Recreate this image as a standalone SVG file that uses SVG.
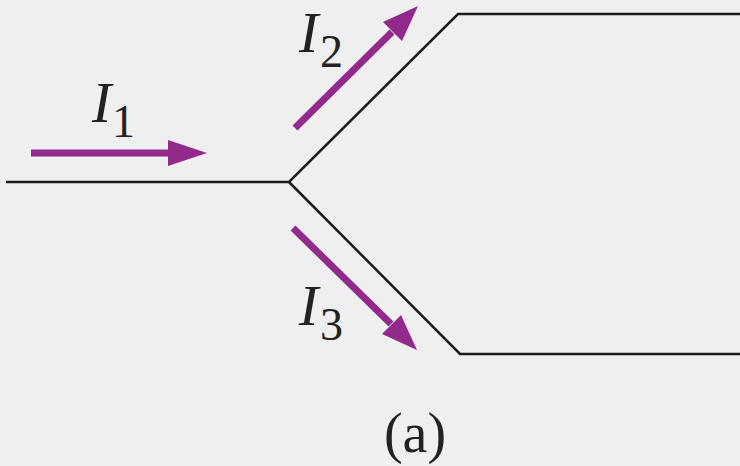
<svg xmlns="http://www.w3.org/2000/svg" width="740" height="466" viewBox="0 0 740 466">
<style>
.wire{fill:none;stroke:#1c1c1c;stroke-width:2.5;stroke-linejoin:miter}
.arr{fill:none;stroke:#922a8c;stroke-width:7}
.head{fill:#922a8c}
.lbl{font-family:"Liberation Serif",serif;font-style:italic;font-size:58px;fill:#222}
.sub{font-family:"Liberation Serif",serif;font-size:46px;fill:#222}
.cap{font-family:"Liberation Serif",serif;font-size:56px;fill:#222}
</style>
<rect width="740" height="466" fill="#efefef"/>
<g id="wires">
<polyline class="wire" points="6,182 289,182 458,14 740,14"/>
<polyline class="wire" points="289,182 460,354 740,354"/>
</g>
<g id="connectors">
<g id="arrow-I1">
<line class="arr" x1="31" y1="153" x2="172" y2="153"/>
<polygon class="head" points="207,153 168,140 168,166"/>
</g>
<g id="arrow-I2">
<line class="arr" x1="295" y1="128" x2="392" y2="32"/>
<polygon class="head" points="418,6 383,22 402,41"/>
</g>
<g id="arrow-I3">
<line class="arr" x1="293" y1="228" x2="391" y2="324"/>
<polygon class="head" points="417,350 382,334 401,315"/>
</g>
</g>
<g id="label-I1"><text class="lbl" x="92" y="122">I</text><text class="sub" x="112" y="137">1</text></g>
<g id="label-I2"><text class="lbl" x="299" y="52">I</text><text class="sub" x="320" y="67">2</text></g>
<g id="label-I3"><text class="lbl" x="299" y="325">I</text><text class="sub" x="320" y="340">3</text></g>
<g id="caption"><text class="cap" x="415" y="452" text-anchor="middle">(a)</text></g>
</svg>
